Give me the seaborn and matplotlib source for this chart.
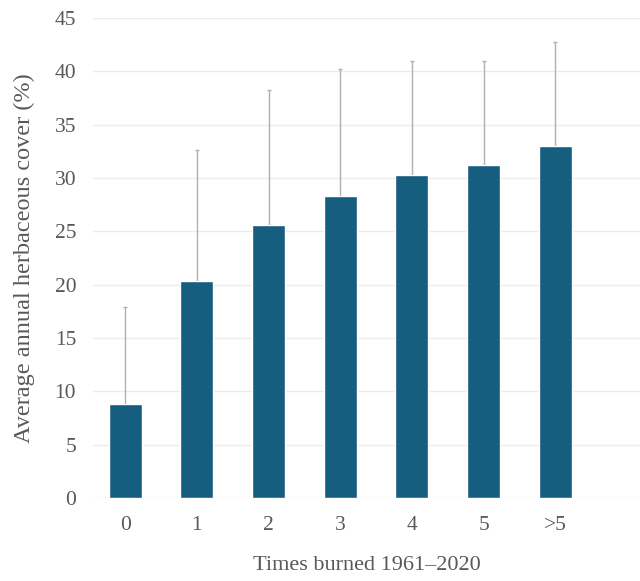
import matplotlib
matplotlib.use("Agg")
import matplotlib.pyplot as plt
import seaborn as sns
import pandas as pd
import numpy as np

# Times burned categories and mean herbaceous cover with its standard deviation
categories = ["0", "1", "2", "3", "4", "5", ">5"]
mean_cover = [8.8, 20.3, 25.6, 28.3, 30.3, 31.2, 33.0]
sd_cover = [9.1, 12.3, 12.65, 11.9, 10.7, 9.8, 9.8]
y_ticks = [0, 5, 10, 15, 20, 25, 30, 35, 40, 45]

sns.set_theme(style="white")
plt.rcParams["font.family"] = ["Liberation Serif", "DejaVu Serif"]

df = pd.DataFrame({"burned": categories, "cover": mean_cover, "sd": sd_cover})

fig = plt.figure(figsize=(6.4, 5.81), dpi=100)
ax = fig.add_axes([0.145, 0.1429, 0.855, 0.826])

bar_color = "#165E80"
sns.barplot(data=df, x="burned", y="cover", order=categories, color=bar_color,
            saturation=1, width=0.46, errorbar=None, ax=ax, zorder=3)

xpos = np.arange(len(categories))
ax.errorbar(xpos, df["cover"], yerr=[np.zeros(len(categories)), df["sd"]],
            fmt="none", ecolor="#B0B0B0", elinewidth=1.0, capsize=1.5,
            capthick=1.0, zorder=2)

ax.set_ylim(0, 45)
ax.set_yticks(y_ticks)
ax.set_yticklabels([str(t) for t in y_ticks])
ax.set_xlim(-0.45, 7.18)

ax.yaxis.grid(True, color="#EBEBEB", linewidth=1.0, zorder=0)
ax.set_axisbelow(True)
for s in ax.spines.values():
    s.set_visible(False)

ax.tick_params(axis="both", length=0, labelsize=15.5, labelcolor="#595959")
ax.tick_params(axis="y", pad=12)
ax.tick_params(axis="x", pad=13)

ax.set_xlabel("Times burned 1961\u20132020", fontsize=16, color="#595959", labelpad=15)
ax.set_ylabel("Average annual herbaceous cover (%)", fontsize=17.5, color="#595959", labelpad=14)

fig.savefig("out.png", dpi=100)
